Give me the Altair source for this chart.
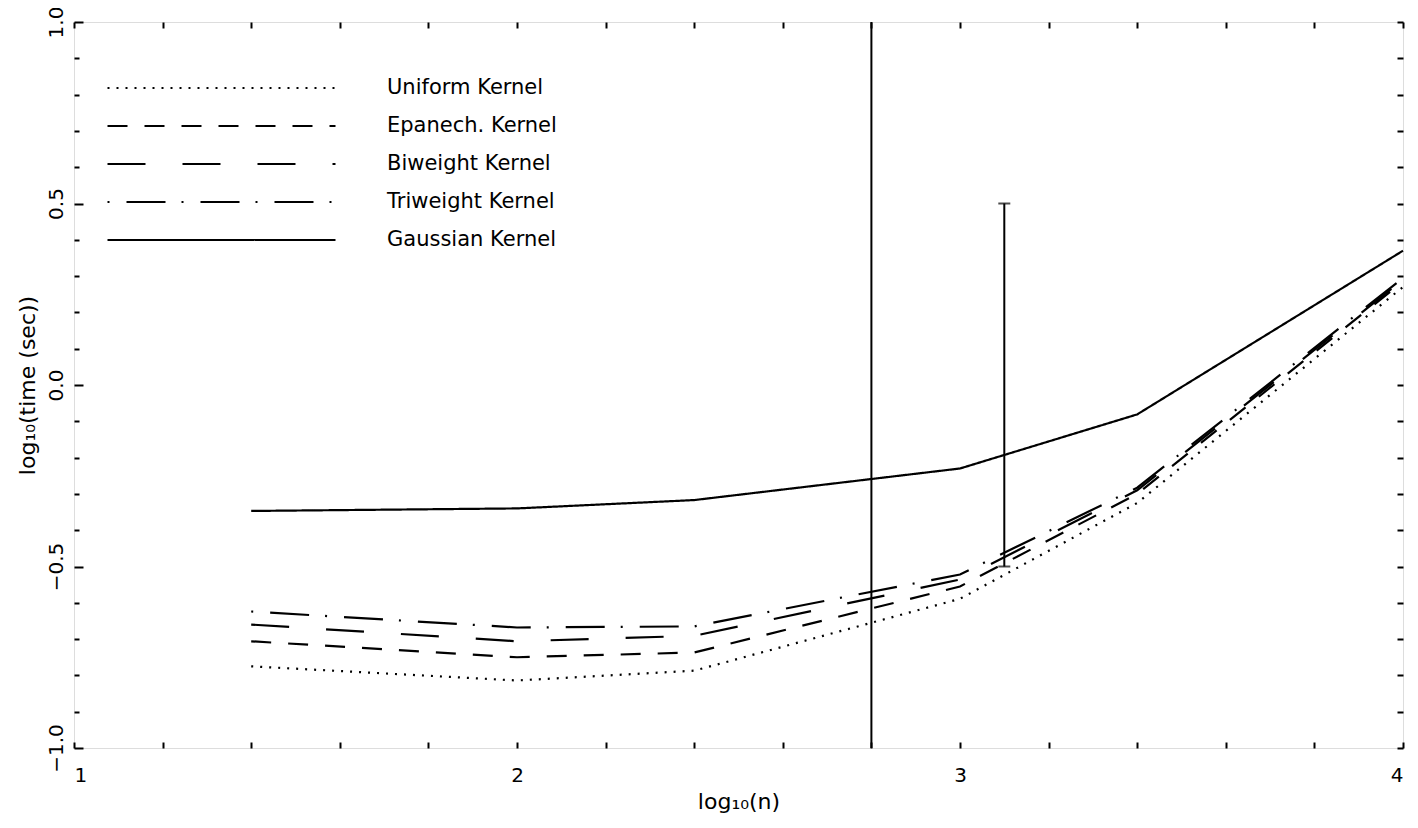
import altair as alt
import pandas as pd

# ---- data ----
log_n = [1.4, 2.0, 2.4, 3.0, 3.4, 4.0]
kernels = ["Uniform Kernel", "Epanech. Kernel", "Biweight Kernel", "Triweight Kernel", "Gaussian Kernel"]
uniform = [-0.775, -0.814, -0.787, -0.589, -0.325, 0.27]
epanech = [-0.706, -0.750, -0.737, -0.555, -0.300, 0.285]
biweight = [-0.660, -0.706, -0.691, -0.536, -0.290, 0.29]
triweight = [-0.624, -0.668, -0.665, -0.522, -0.283, 0.295]
gaussian = [-0.347, -0.340, -0.317, -0.230, -0.081, 0.37]

vline_x = [2.8]
vline_y = [-1.0]
vline_y2 = [1.0]
bar_x = [3.1]
bar_lo = [-0.5]
bar_hi = [0.5]

x_ticks = [round(1.0 + 0.2 * i, 1) for i in range(16)]
y_ticks = [round(-1.0 + 0.1 * i, 1) for i in range(21)]
x_labels = [1, 2, 3, 4]
y_labels = [-1.0, -0.5, 0.0, 0.5, 1.0]

series = [uniform, epanech, biweight, triweight, gaussian]
rows = []
for k, vals in zip(kernels, series):
    for xv, yv in zip(log_n, vals):
        rows.append({"log_n": xv, "time": yv, "kernel": k})
df = pd.DataFrame(rows)

dashes = [[2, 7], [20, 17], [38, 37], [2, 17, 39, 16], [1, 0]]

W, H = 1329, 726
FONT = "DejaVu Sans"

xscale = alt.Scale(domain=[1, 4], nice=False, zero=False)
yscale = alt.Scale(domain=[-1, 1], nice=False, zero=False)

lines = alt.Chart(df).mark_line(color="black", strokeWidth=2.2).encode(
    x=alt.X("log_n:Q", scale=xscale,
            axis=alt.Axis(orient="bottom", values=x_labels, format="d", ticks=False, domain=False,
                          labelFontSize=20, labelFont=FONT, labelColor="black", labelPadding=17,
                          title="log₁₀(n)", titleFontSize=22, titleFont=FONT, titleFontWeight="normal",
                          titleColor="black", titlePadding=6, grid=False)),
    y=alt.Y("time:Q", scale=yscale,
            axis=alt.Axis(orient="left", values=y_labels, format=".1f", ticks=False, domain=False,
                          labelAngle=270, labelFontSize=20, labelFont=FONT, labelColor="black",
                          labelPadding=8, title="log₁₀(time (sec))", titleFontSize=22, titleFont=FONT,
                          titleFontWeight="normal", titleColor="black", titlePadding=7, grid=False)),
    strokeDash=alt.StrokeDash("kernel:N", scale=alt.Scale(domain=kernels, range=dashes),
                              legend=alt.Legend(orient="none", legendX=32, legendY=47, title=None,
                                                symbolType="stroke", symbolSize=228 * 228,
                                                symbolStrokeWidth=2.2, symbolStrokeColor="black",
                                                symbolOffset=0, labelOffset=50, clipHeight=38,
                                                rowPadding=0, padding=0, labelFontSize=21,
                                                labelFont=FONT, labelColor="black", labelLimit=500)),
)

vdf = pd.DataFrame({"x": vline_x, "y": vline_y, "y2": vline_y2})
vline = alt.Chart(vdf).mark_rule(color="black", strokeWidth=2).encode(
    x=alt.X("x:Q", scale=xscale,
            axis=alt.Axis(orient="top", offset=-H, values=x_ticks, labels=False, title=None,
                          domain=False, tickSize=6, tickWidth=2, tickColor="black", grid=False)),
    y=alt.Y("y:Q", scale=yscale,
            axis=alt.Axis(orient="right", offset=-W, values=y_ticks, labels=False, title=None,
                          domain=False, tickWidth=2, tickColor="black", grid=False,
                          tickSize={"condition": {"test": "abs(datum.value*2 - round(datum.value*2)) < 0.01",
                                                  "value": 9}, "value": 5})),
    y2="y2:Q",
)

bdf = pd.DataFrame({"x": bar_x, "lo": bar_lo, "hi": bar_hi})
bar = alt.Chart(bdf).mark_rule(color="black", strokeWidth=2).encode(
    x=alt.X("x:Q", scale=xscale,
            axis=alt.Axis(orient="bottom", offset=-H, values=x_ticks, labels=False, title=None,
                          domain=False, tickSize=6, tickWidth=2, tickColor="black", grid=False)),
    y=alt.Y("lo:Q", scale=yscale,
            axis=alt.Axis(orient="left", offset=-W, values=y_ticks, labels=False, title=None,
                          domain=False, tickSize=6, tickWidth=2, tickColor="black", grid=False)),
    y2="hi:Q",
)

cdf = pd.DataFrame({"x": bar_x + bar_x, "y": bar_lo + bar_hi})
caps = alt.Chart(cdf).mark_tick(color="black", orient="horizontal", size=12, thickness=2).encode(
    x=alt.X("x:Q", scale=xscale, axis=None),
    y=alt.Y("y:Q", scale=yscale, axis=None),
)

chart = alt.layer(lines, vline, bar, caps).resolve_axis(
    x="independent", y="independent"
).properties(
    width=W, height=H,
    autosize=alt.AutoSizeParams(type="none"),
    padding={"left": 66, "top": 14, "right": 7, "bottom": 66},
).configure_view(
    stroke="black", strokeWidth=3
).configure(background="white")

chart.save("out.html", embed_options={"renderer": "svg", "actions": False})
